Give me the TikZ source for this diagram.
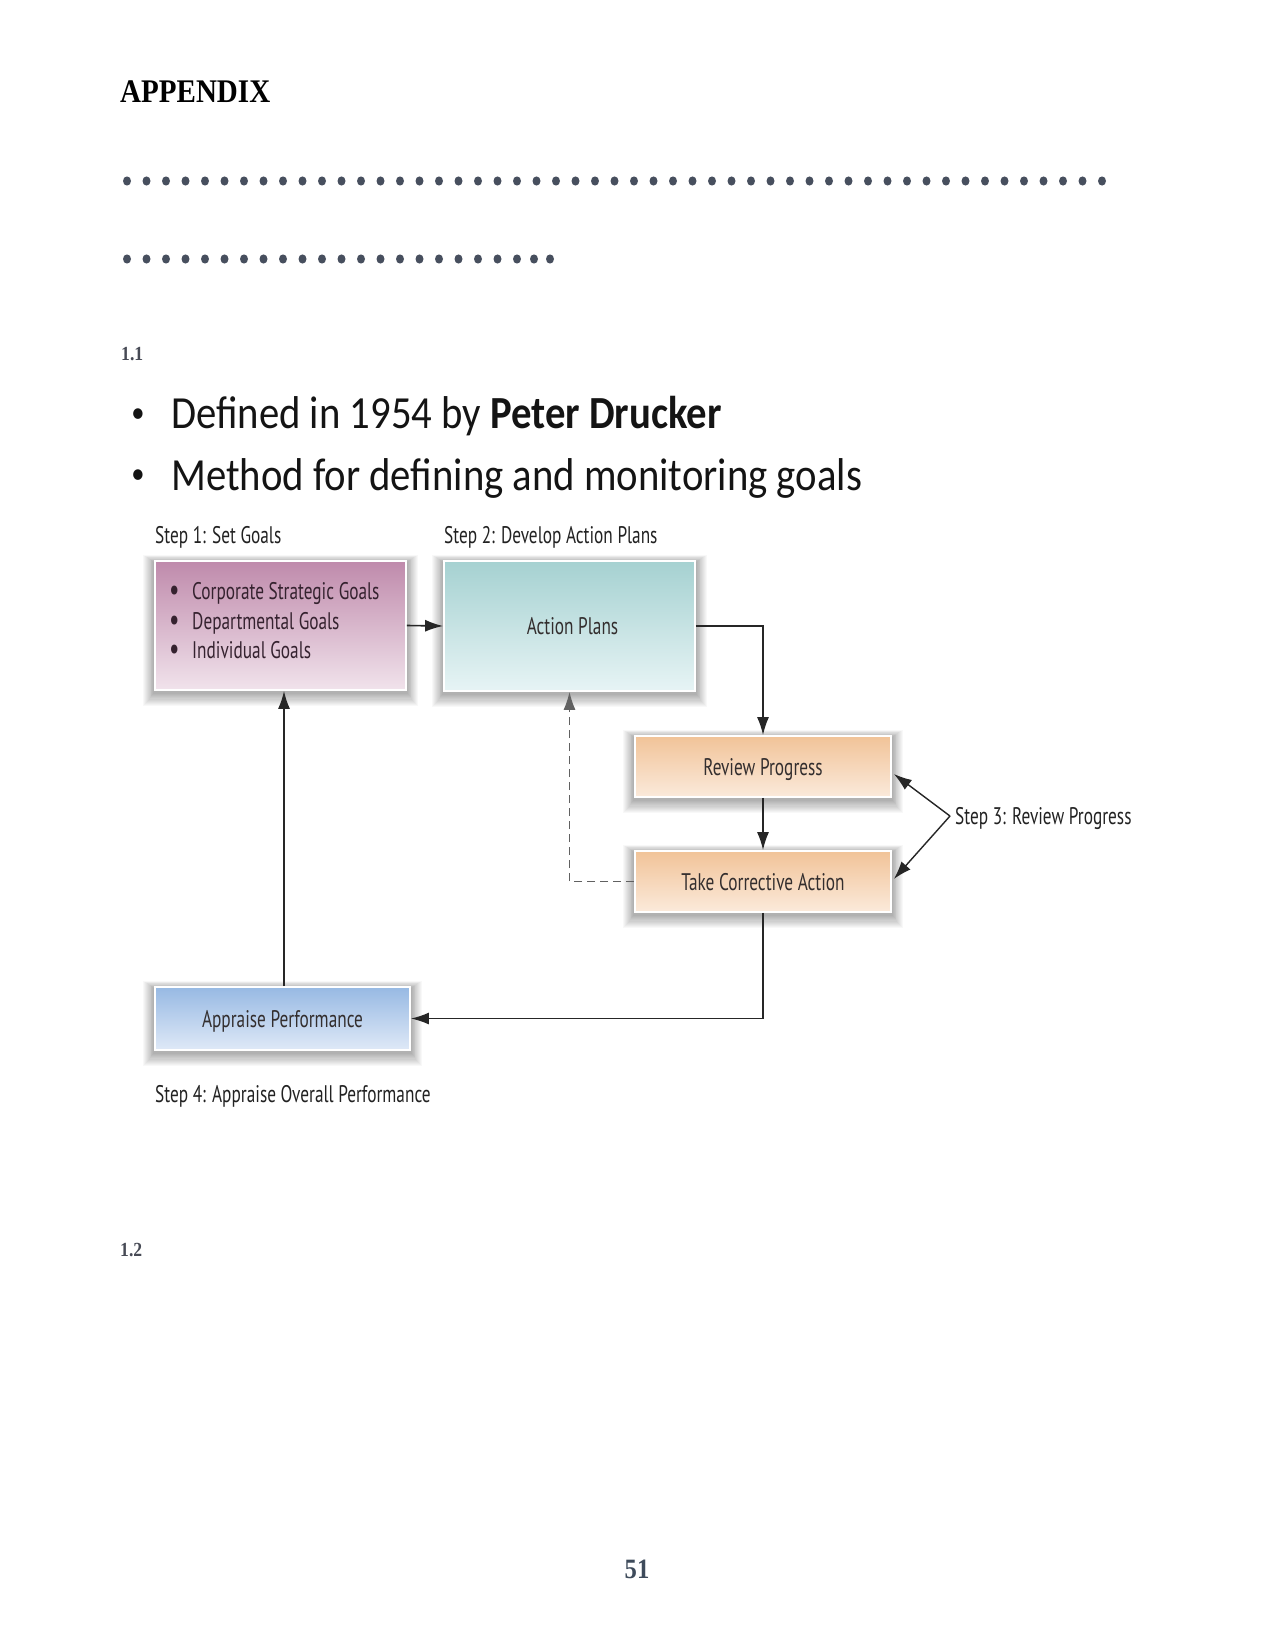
\documentclass[tikz,border=0pt]{standalone}
\usepackage{fontspec}
\setmainfont{Liberation Serif}[FakeStretch=0.88]
\newfontfamily\calfont{Carlito}[FakeStretch=0.885]
\newfontfamily\dgfont{PT Sans}[FakeStretch=0.72]
\usetikzlibrary{arrows.meta,backgrounds,calc}
\definecolor{dotc}{HTML}{474F5E}
\definecolor{numc}{HTML}{474A55}
\definecolor{pgc}{HTML}{3E4B5B}
\definecolor{gtop}{HTML}{BF8AAB}
\definecolor{gbot}{HTML}{F1E3EC}
\definecolor{ptop}{HTML}{A5D1D1}
\definecolor{pbot}{HTML}{E7F4F5}
\definecolor{otop}{HTML}{F1C398}
\definecolor{obot}{HTML}{FBEADB}
\definecolor{btop}{HTML}{97B9E3}
\definecolor{bbot}{HTML}{DFE9F7}
\definecolor{dtext}{HTML}{332E2E}
\definecolor{gtext}{HTML}{35222F}
\definecolor{labc}{HTML}{222222}
\definecolor{linec}{HTML}{262626}
\tikzset{
  txt/.style={inner sep=0pt},
  dgf/.style={font=\dgfont\fontsize{24}{28}\selectfont},
  dgbox/.style={rectangle, draw=white, line width=1.8pt, inner sep=0pt, text=dtext,
    font=\dgfont\fontsize{24}{28}\selectfont, text height=17pt, text depth=0pt},
  conn/.style={draw=linec, line width=1.6pt, -{Latex[length=18pt,width=12pt]}},
  big/.style={font=\calfont\fontsize{46}{55}\selectfont, text=black!92},
  bigdot/.style={font=\calfont\fontsize{30}{36}\selectfont, text=black!92},
}
\newcommand\gbul{\makebox[23pt][l]{\raisebox{-1.5pt}{\fontsize{32}{28}\selectfont\textbullet}}}
\begin{document}
\begin{tikzpicture}[x=1pt,y=-1pt]
\useasboundingbox (0,0) rectangle (1275,1651);
% header
\node[txt, anchor=base west, text=black, font=\bfseries\fontsize{33}{38}\selectfont] (appx) at (120,103) {APPENDIX};
\foreach \k in {0,...,50} \fill[dotc] (127+\k*19.5,181) ellipse [x radius=4pt, y radius=4.6pt];
\foreach \k in {0,...,20} \fill[dotc] (127+\k*19.5,259) ellipse [x radius=4pt, y radius=4.6pt];
\fill[dotc] (534,259) ellipse [x radius=4pt, y radius=4.6pt];
\fill[dotc] (550,259) ellipse [x radius=4pt, y radius=4.6pt];
\node[txt, anchor=base west, text=numc, font=\bfseries\fontsize{20}{24}\selectfont] (s11) at (121,360) {1.1};
% bullets
\node[txt, bigdot, anchor=center] (bul1) at (138,416) {\textbullet};
\node[txt, big, anchor=base west] (l1) at (171,428) {Defined in 1954 by \textbf{Peter Drucker}};
\node[txt, bigdot, anchor=center] (bul2) at (138,477) {\textbullet};
\node[txt, big, anchor=base west] (l2) at (171,490) {Method for defining and monitoring goals};
% step labels
\node[txt, dgf, text=labc, anchor=base west] (st1) at (155,543) {Step 1: Set Goals};
\node[txt, dgf, text=labc, anchor=base west] (st2) at (444,543) {Step 2: Develop Action Plans};
\node[txt, dgf, text=labc, anchor=base west] (st3) at (955,824) {Step 3: Review Progress};
\node[txt, dgf, text=labc, anchor=base west] (st4) at (155,1102) {Step 4: Appraise Overall Performance};
% boxes
\node[dgbox, minimum width=251pt, minimum height=129pt, top color=gtop, bottom color=gbot] (goals) at (280.5,625.5) {};
\node[dgbox, minimum width=251pt, minimum height=130pt, top color=ptop, bottom color=pbot] (plans) at (569.5,626) {\hspace{6pt}Action Plans};
\node[dgbox, minimum width=256pt, minimum height=61pt, top color=otop, bottom color=obot] (rev) at (763,766.5) {Review Progress};
\node[dgbox, minimum width=256pt, minimum height=61pt, top color=otop, bottom color=obot] (tca) at (763,881.5) {Take Corrective Action};
\node[dgbox, minimum width=255pt, minimum height=63pt, top color=btop, bottom color=bbot] (appr) at (282.5,1018.5) {Appraise Performance};
% goal items
\node[txt, dgf, text=gtext, anchor=base west] (g1) at (169,599) {\gbul Corporate Strategic Goals};
\node[txt, dgf, text=gtext, anchor=base west] (g2) at (169,629) {\gbul Departmental Goals};
\node[txt, dgf, text=gtext, anchor=base west] (g3) at (169,658) {\gbul Individual Goals};
% connectors
\draw[conn] (goals.east) -- (plans.west);
\draw[conn] (plans.east) -| (rev.north);
\draw[conn] (rev.south) -- (tca.north);
\draw[conn] (tca.south) |- (appr.east);
\draw[conn] ($(appr.north)+(1.5,0)$) -- ($(goals.south)+(3.5,0)$);
\draw[conn, line width=1.3pt, draw=black!62, dash pattern=on 8pt off 5pt] (tca.west) -| (plans.south);
\coordinate (s3) at (950,816);
\draw[conn, line width=1.4pt] (s3) -- ($(rev.east)+(2,7.5)$);
\draw[conn, line width=1.4pt] (s3) -- ($(tca.east)+(2,-2.5)$);
% section 1.2 and page number
\node[txt, anchor=base west, text=numc, font=\bfseries\fontsize{20}{24}\selectfont] (s12) at (120,1256) {1.2};
\node[txt, anchor=base, text=pgc, font=\bfseries\fontsize{28}{32}\selectfont] (pg) at (637,1578) {51};
% background and shadows
\begin{scope}[on background layer]
\fill[white] (0,0) rectangle (1275,1651);
\foreach \n in {goals,plans,rev,tca,appr}{
  \foreach \i in {1,...,12}{
    \fill[black,opacity=0.026] ($(\n.south west)+(-\i*0.9,\i*1.1+2)$) rectangle ($(\n.north east)+(\i*0.9,-\i*0.6+2)$);
  }}
\end{scope}
\end{tikzpicture}
\end{document}
